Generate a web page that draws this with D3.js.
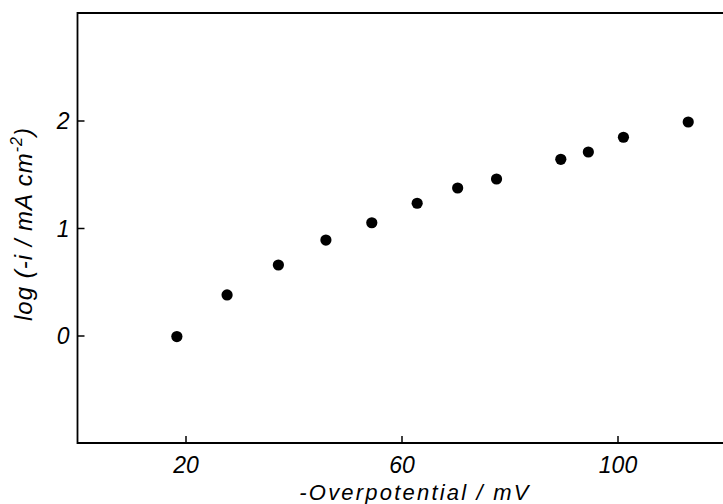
<!DOCTYPE html>
<html>
<head>
<meta charset="utf-8">
<script src="https://cdn.jsdelivr.net/npm/d3@7"></script>
<style>
  html, body { margin: 0; padding: 0; background: #fff; }
  svg { display: block; }
  text { font-family: "Liberation Sans", Arial, sans-serif; font-style: italic; fill: #000; }
</style>
</head>
<body>
<svg id="chart" width="723" height="504"></svg>
<script>
// overpotential (mV) and log current density
var overpotential = [18.4, 27.7, 37.2, 46.0, 54.5, 62.9, 70.4, 77.6, 89.5, 94.6, 101.1, 113.1];
var logCurrent = [-0.01, 0.377, 0.656, 0.888, 1.049, 1.23, 1.372, 1.456, 1.639, 1.707, 1.844, 1.986];
var xTicks = [20, 60, 100];
var yTicks = [0, 1, 2];

var svg = d3.select('#chart');

// plot box (window.top is reserved, so prefixed names)
var boxLeft = 77.5, boxRight = 725.5, boxTop = 13, boxBottom = 443;

var x = d3.scaleLinear().domain([0, 120]).range([boxLeft, boxRight]);
var y = d3.scaleLinear().domain([-1, 3]).range([boxBottom, boxTop]);

// frame (right edge falls off the page)
svg.append('path')
    .attr('d', 'M' + boxRight + ',' + boxTop + 'H' + boxLeft + 'V' + boxBottom + 'H' + boxRight)
    .attr('fill', 'none')
    .attr('stroke', '#000')
    .attr('stroke-width', 1.8);

// bottom axis, ticks pointing inward
var xAxis = d3.axisBottom(x).tickValues(xTicks).tickFormat(d3.format('d')).tickSizeInner(-7).tickSizeOuter(0);
var gx = svg.append('g').attr('transform', 'translate(0,' + boxBottom + ')').call(xAxis);
gx.select('.domain').remove();
gx.selectAll('line').attr('stroke', '#000').attr('stroke-width', 1.5);
gx.selectAll('text')
    .attr('font-family', null)
    .attr('font-size', 23)
    .attr('dy', null)
    .attr('y', 30);

// left axis, ticks pointing inward
var yAxis = d3.axisLeft(y).tickValues(yTicks).tickFormat(d3.format('d')).tickSizeInner(-7).tickSizeOuter(0);
var gy = svg.append('g').attr('transform', 'translate(' + boxLeft + ',0)').call(yAxis);
gy.select('.domain').remove();
gy.selectAll('line').attr('stroke', '#000').attr('stroke-width', 1.5);
gy.selectAll('text')
    .attr('font-family', null)
    .attr('font-size', 23)
    .attr('x', -8)
    .attr('dy', '0.36em');

// data points
svg.append('g').selectAll('circle')
    .data(overpotential)
    .join('circle')
    .attr('cx', function (d) { return x(d); })
    .attr('cy', function (d, i) { return y(logCurrent[i]); })
    .attr('r', 5.6)
    .attr('fill', '#000');

// axis titles
svg.append('text')
    .attr('x', 415)
    .attr('y', 500)
    .attr('text-anchor', 'middle')
    .attr('font-size', 22)
    .attr('letter-spacing', 2.2)
    .text('-Overpotential / mV');

var yt = svg.append('text')
    .attr('transform', 'translate(32,224) rotate(-90)')
    .attr('text-anchor', 'middle')
    .attr('font-size', 24)
    .attr('letter-spacing', 1);
yt.append('tspan').text('log (-i / mA cm');
yt.append('tspan').attr('font-size', 16).attr('dy', -10).text('-2');
yt.append('tspan').attr('dy', 10).text(')');
</script>
</body>
</html>
